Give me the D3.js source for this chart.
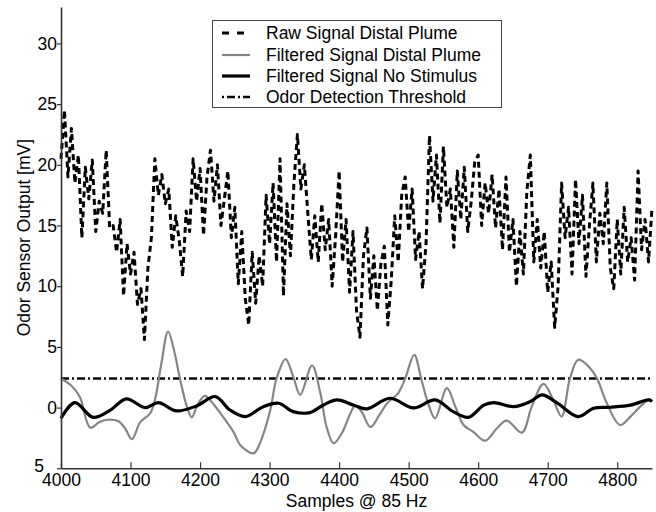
<!DOCTYPE html>
<html><head><meta charset="utf-8">
<script src="https://cdn.jsdelivr.net/npm/d3@7"></script>
<style>body{margin:0;background:#fff}</style>
</head><body>
<svg id="c" width="656" height="512"></svg>
<script>
// ---------- data ----------
const xDomain = [4000, 4850];
const yDomain = [-5, 33];
const xTicks = [4000, 4100, 4200, 4300, 4400, 4500, 4600, 4700, 4800];
const yTicks = [-5, 0, 5, 10, 15, 20, 25, 30];
const yTickLabels = ["5", "0", "5", "10", "15", "20", "25", "30"];

const rawStart = 4000, rawStep = 5;
const rawValues = [
  20.5, 24.5, 19.0, 23.0, 18.5, 20.8, 14.0, 19.8, 17.2, 20.4,
  14.5, 17.0, 16.0, 21.2, 14.8, 15.0, 12.8, 15.5, 9.2, 13.5,
  11.0, 12.8, 8.5, 9.8, 5.6, 11.5, 14.0, 20.5, 17.5, 19.2,
  16.8, 18.0, 13.2, 15.8, 13.8, 10.8, 16.2, 14.5, 20.5, 17.0,
  19.7, 14.2, 19.0, 21.2, 17.0, 20.0, 15.0, 17.2, 19.5, 14.0,
  16.5, 10.2, 14.5, 9.0, 6.8, 12.8, 8.6, 12.5, 10.0, 17.5,
  13.5, 18.5, 12.0, 20.5, 9.2, 16.8, 12.5, 18.5, 22.5, 18.0,
  20.0, 16.0, 12.2, 15.8, 12.0, 16.8, 13.0, 15.5, 10.0, 14.2,
  19.5, 12.0, 15.5, 9.5, 14.5, 8.0, 5.8, 12.5, 14.8, 9.0,
  12.5, 8.0, 11.8, 13.3, 6.8, 10.5, 15.8, 12.0, 17.5, 19.0,
  14.5, 18.0, 12.2, 14.5, 9.8, 13.5, 22.4, 17.0, 20.8, 15.2,
  21.5, 16.5, 18.0, 13.2, 19.5, 15.5, 19.8, 14.5, 17.0, 20.2,
  20.8, 15.0, 18.5, 16.0, 19.2, 14.8, 18.0, 13.0, 19.0, 12.8,
  15.5, 10.0, 14.5, 11.0, 17.8, 20.8, 12.0, 15.5, 11.5, 14.5,
  9.5, 12.0, 6.6, 10.0, 18.5, 14.0, 16.5, 11.0, 18.8, 13.5,
  17.5, 10.8, 15.0, 18.5, 12.0, 16.0, 13.5, 18.5, 11.5, 9.8,
  15.5, 11.0, 16.5, 12.0, 14.0, 10.5, 19.5, 13.0, 15.5, 12.0,
  16.5
];

const plumeSamples = [4000,4015,4027,4042,4055,4066,4082,4092,4102,4114,4128,4135,4144,4154,4163,4171,4181,4188,4197,4207,4219,4231,4248,4258,4277,4286,4301,4310,4323,4334,4344,4361,4373,4382,4392,4404,4416,4423,4432,4445,4458,4469,4485,4495,4508,4518,4528,4538,4555,4567,4579,4593,4610,4627,4641,4663,4677,4694,4708,4720,4732,4744,4761,4771,4785,4804,4819,4833,4847,4850];
const plumeValues  = [2.4,1.8,0.9,-1.65,-1.2,-1.0,-1.1,-1.7,-2.6,-1.2,-0.5,0.6,3.5,6.27,4.6,2.4,0.1,-0.8,0.3,0.96,0.3,-0.6,-2.0,-3.1,-3.77,-2.95,-0.2,2.4,4.0,2.55,1.05,3.47,1.2,-1.6,-2.94,-2.1,-0.5,0.15,-0.3,-1.6,-0.6,0.35,1.2,2.4,4.35,2.4,0.35,-0.88,1.6,0.1,-1.43,-2.0,-2.72,-1.7,-1.07,-2.06,0.08,1.95,0.63,-0.74,2.4,3.94,3.25,2.4,0.35,-1.43,-0.74,0.08,0.69,0.5];

const noStimSamples = [4000,4020,4046,4071,4094,4121,4140,4166,4195,4222,4243,4265,4291,4313,4334,4358,4377,4397,4421,4440,4473,4507,4538,4564,4586,4608,4622,4651,4675,4692,4714,4744,4766,4790,4819,4845,4850];
const noStimValues  = [-0.88,0.41,-0.8,-0.2,0.72,0.0,0.41,-0.27,0.14,0.91,-0.2,-0.74,0.08,0.36,-0.33,-0.41,0.2,0.63,0.2,-0.1,0.77,-0.03,0.63,-0.33,-0.8,0.2,0.41,0.08,0.5,1.05,0.36,-0.74,-0.05,0.03,0.2,0.63,0.5];

const thresholdValue = 2.4;

const legendLabels = ["Raw Signal Distal Plume", "Filtered Signal Distal Plume", "Filtered Signal No Stimulus", "Odor Detection Threshold"];
const xLabel = "Samples @ 85 Hz";
const yLabel = "Odor Sensor Output [mV]";

// ---------- drawing ----------
const FONT = "'Liberation Sans', Arial, Helvetica, sans-serif";
const FS = 17.5;
const svg = d3.select("#c");
const L = 61, R = 652, T = 7, B = 468.3;
const x = d3.scaleLinear().domain(xDomain).range([L, R]);
const y = d3.scaleLinear().domain(yDomain).range([B, T]);

const styles = [
  {stroke: "#000", width: 3, dash: "6,4"},
  {stroke: "#858585", width: 2.2, dash: null},
  {stroke: "#000", width: 3.2, dash: null},
  {stroke: "#000", width: 2.6, dash: "8,3,2,3"}
];

const rawData = rawValues.map((v, i) => [rawStart + i * rawStep, v]);
const plumeData = plumeSamples.map((s, i) => [s, plumeValues[i]]);
const noStimData = noStimSamples.map((s, i) => [s, noStimValues[i]]);
const threshData = [[xDomain[0], thresholdValue], [xDomain[1], thresholdValue]];

const lineLin = d3.line().x(d => x(d[0])).y(d => y(d[1]));
const lineSmooth = d3.line().x(d => x(d[0])).y(d => y(d[1])).curve(d3.curveCatmullRom.alpha(0.5));

function drawPath(data, gen, st) {
  const p = svg.append("path").datum(data).attr("d", gen)
    .attr("fill", "none").attr("stroke", st.stroke).attr("stroke-width", st.width)
    .attr("stroke-linejoin", "round");
  if (st.dash) p.attr("stroke-dasharray", st.dash);
  return p;
}
drawPath(rawData, lineLin, styles[0]);
drawPath(threshData, lineLin, styles[3]);
drawPath(plumeData, lineSmooth, styles[1]);
drawPath(noStimData, lineSmooth, styles[2]);

// axes
const xAxis = d3.axisBottom(x).tickValues(xTicks).tickFormat(d3.format("d"))
  .tickSizeInner(-6).tickSizeOuter(0).tickPadding(5);
const gx = svg.append("g").attr("transform", `translate(0,${B})`).call(xAxis);
const yAxis = d3.axisLeft(y).tickValues(yTicks).tickFormat((d, i) => yTickLabels[i])
  .tickSizeInner(4).tickSizeOuter(0).tickPadding(0);
const gy = svg.append("g").attr("transform", `translate(${L},0)`).call(yAxis);
[gx, gy].forEach(g => {
  g.select(".domain").attr("stroke", "#333").attr("stroke-width", 1.6);
  g.selectAll(".tick line").attr("stroke", "#333").attr("stroke-width", 1.2);
  g.selectAll("text").attr("font-family", FONT).attr("font-size", FS).attr("fill", "#000");
});
gy.selectAll(".tick text").filter(d => d === -5).attr("dx", -13).attr("dy", "0.2em");

// axis titles
svg.append("text").attr("x", (L + R) / 2).attr("y", 507).attr("text-anchor", "middle")
  .attr("font-family", FONT).attr("font-size", FS).text(xLabel);
svg.append("text").attr("transform", `translate(30,${(T + B) / 2}) rotate(-90)`)
  .attr("text-anchor", "middle").attr("font-family", FONT).attr("font-size", FS).text(yLabel);

// legend
const lg = svg.append("g");
lg.append("rect").attr("x", 212.5).attr("y", 20.5).attr("width", 289).attr("height", 87)
  .attr("fill", "#fff").attr("stroke", "#444").attr("stroke-width", 1);
const rowsY = [33, 55, 76, 97];
legendLabels.forEach((lab, i) => {
  const st = styles[i];
  const ln = lg.append("line").attr("x1", 222).attr("x2", 250).attr("y1", rowsY[i]).attr("y2", rowsY[i])
    .attr("stroke", st.stroke).attr("stroke-width", st.width);
  if (st.dash) ln.attr("stroke-dasharray", i === 0 ? "7,8" : "2,3,8,3");
  lg.append("text").attr("x", 266).attr("y", rowsY[i]).attr("dy", "0.35em")
    .attr("font-family", FONT).attr("font-size", FS).text(lab);
});
</script>
</body></html>
